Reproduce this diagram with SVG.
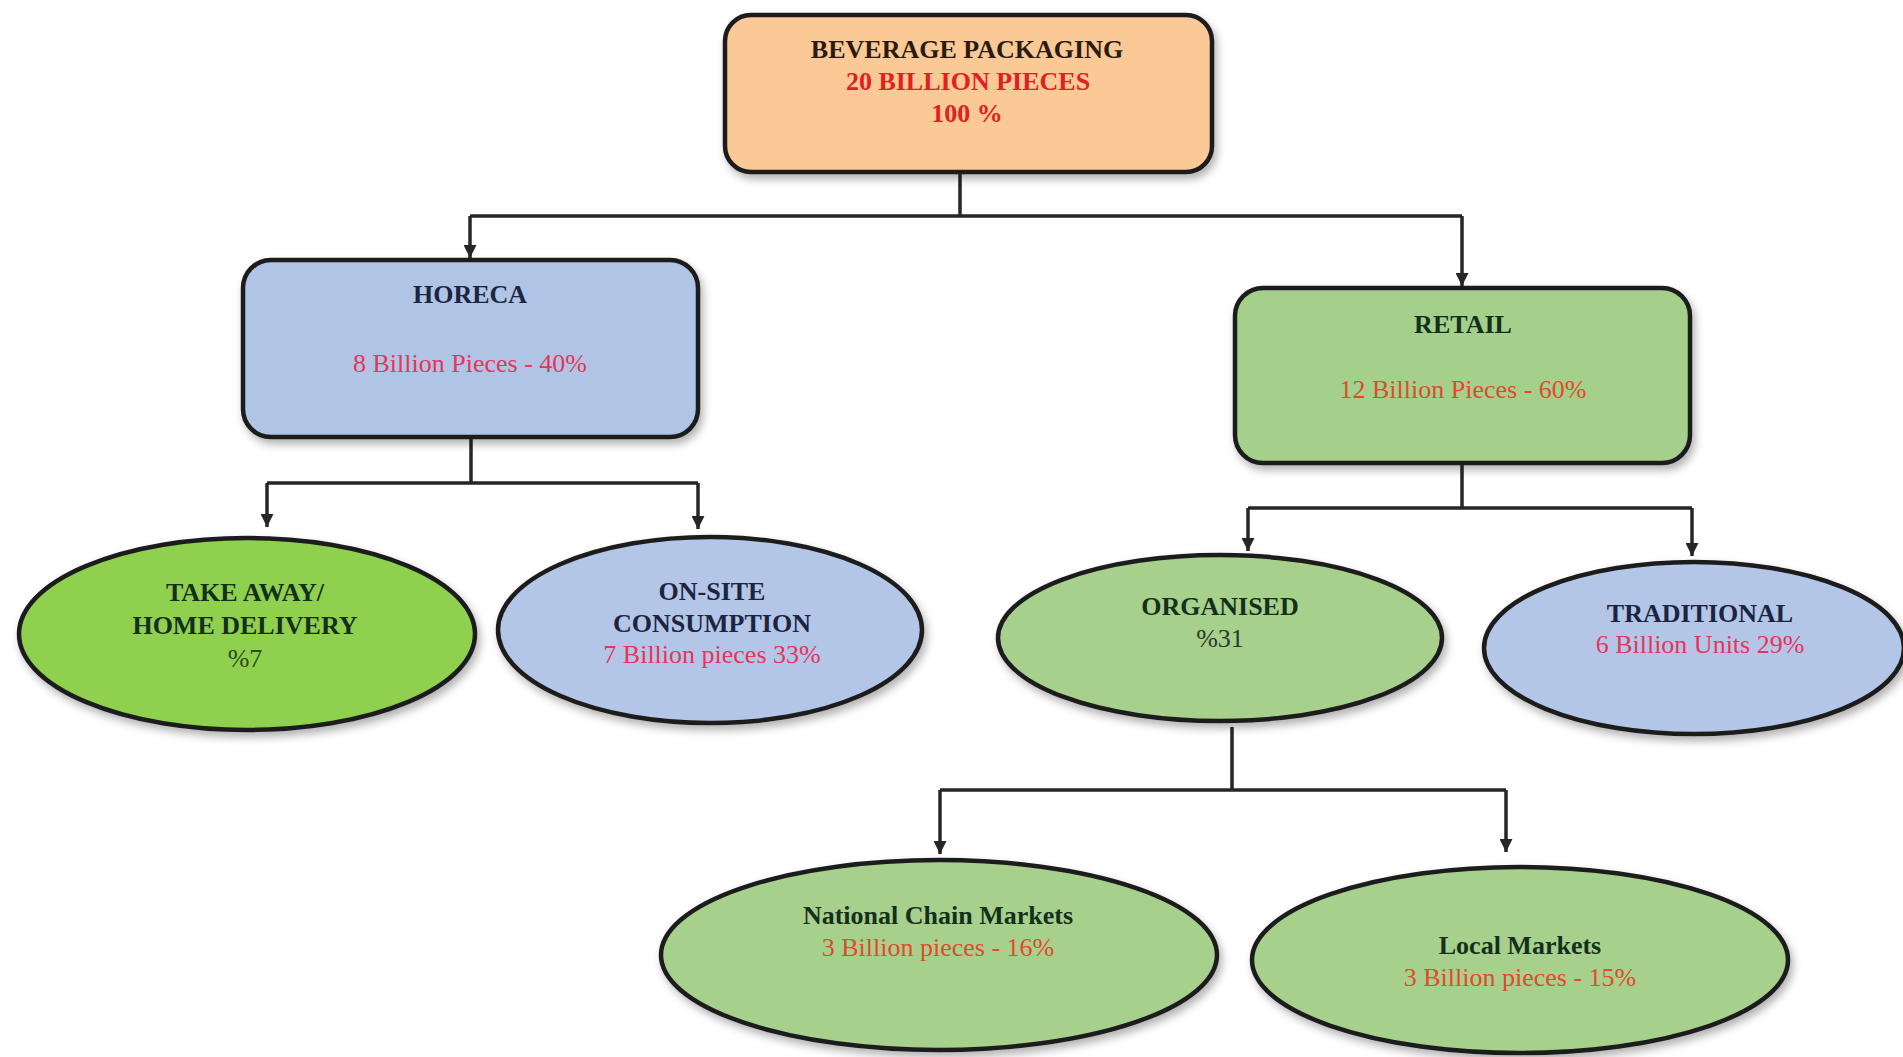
<svg xmlns="http://www.w3.org/2000/svg" width="1903" height="1057" viewBox="0 0 1903 1057" font-family="'Liberation Serif', 'Times New Roman', serif">
<style>
text{font-family:'Liberation Serif','Times New Roman',serif;font-size:26px;text-anchor:middle}
.b{font-weight:bold}
.node{stroke:#1e1e1e;stroke-width:4.5}
.conn{fill:none;stroke:#262626;stroke-width:3.5}
.redA{fill:#e3201f}
.redB{fill:#e8335a}
.redC{fill:#e2492b}
.navy{fill:#1b2440}
.dgreen{fill:#15301a}
.dark{fill:#2a1a10}
</style>
<defs>
<filter id="sh" x="-10%" y="-10%" width="125%" height="130%">
<feDropShadow dx="3" dy="5" stdDeviation="4" flood-color="#000" flood-opacity="0.3"/>
</filter>
<marker id="ah" viewBox="0 0 12 12" refX="12" refY="6" markerWidth="13" markerHeight="13" markerUnits="userSpaceOnUse" orient="auto">
<path d="M0 0 L12 6 L0 12 Z" fill="#262626"/>
</marker>
</defs>
<rect width="1903" height="1057" fill="#ffffff"/>

<g id="connectors">
<path class="conn" d="M960 172 V216 M470 216 H1462"/>
<path class="conn" d="M470 216 V258" marker-end="url(#ah)"/>
<path class="conn" d="M1462 216 V286" marker-end="url(#ah)"/>
<path class="conn" d="M471 437 V483 M267 483 H698"/>
<path class="conn" d="M267 483 V527" marker-end="url(#ah)"/>
<path class="conn" d="M698 483 V529" marker-end="url(#ah)"/>
<path class="conn" d="M1462 463 V508 M1248 508 H1692"/>
<path class="conn" d="M1248 508 V551" marker-end="url(#ah)"/>
<path class="conn" d="M1692 508 V556" marker-end="url(#ah)"/>
<path class="conn" d="M1232 727 V790 M940 790 H1506"/>
<path class="conn" d="M940 790 V854" marker-end="url(#ah)"/>
<path class="conn" d="M1506 790 V852" marker-end="url(#ah)"/>
</g>

<g id="beverage">
<rect class="node" x="725" y="15" width="487" height="157" rx="26" fill="#fbc996" filter="url(#sh)"/>
<text class="b dark" x="967" y="58">BEVERAGE PACKAGING</text>
<text class="b redA" x="968" y="90">20 BILLION PIECES</text>
<text class="b redA" x="967" y="122">100 %</text>
</g>

<g id="horeca">
<rect class="node" x="243" y="260" width="455" height="177" rx="28" fill="#b0c4e6" filter="url(#sh)"/>
<text class="b navy" x="470" y="303">HORECA</text>
<text class="redB" x="470" y="372">8 Billion Pieces - 40%</text>
</g>

<g id="retail">
<rect class="node" x="1235" y="288" width="455" height="175" rx="28" fill="#a4d08c" filter="url(#sh)"/>
<text class="b dgreen" x="1463" y="333">RETAIL</text>
<text class="redC" x="1463" y="398">12 Billion Pieces - 60%</text>
</g>

<g id="takeaway">
<ellipse class="node" cx="247" cy="634" rx="228" ry="96" fill="#8fd14f" filter="url(#sh)"/>
<text class="b dgreen" x="245" y="601">TAKE AWAY/</text>
<text class="b dgreen" x="245" y="634">HOME DELIVERY</text>
<text fill="#2a4a20" x="245" y="667">%7</text>
</g>

<g id="onsite">
<ellipse class="node" cx="710" cy="630" rx="212" ry="93" fill="#b4c6e7" filter="url(#sh)"/>
<text class="b navy" x="712" y="600">ON-SITE</text>
<text class="b navy" x="712" y="632">CONSUMPTION</text>
<text class="redB" x="712" y="663">7 Billion pieces 33%</text>
</g>

<g id="organised">
<ellipse class="node" cx="1220" cy="638" rx="222" ry="83" fill="#a8d08d" filter="url(#sh)"/>
<text class="b dgreen" x="1220" y="615">ORGANISED</text>
<text fill="#2a3a2a" x="1220" y="647">%31</text>
</g>

<g id="traditional">
<ellipse class="node" cx="1694" cy="648" rx="210" ry="86" fill="#b4c6e7" filter="url(#sh)"/>
<text class="b navy" x="1700" y="622">TRADITIONAL</text>
<text class="redB" x="1700" y="653">6 Billion Units 29%</text>
</g>

<g id="national">
<ellipse class="node" cx="939" cy="955" rx="278" ry="95" fill="#a8d08d" filter="url(#sh)"/>
<text class="b dgreen" x="938" y="924">National Chain Markets</text>
<text class="redC" x="938" y="956">3 Billion pieces - 16%</text>
</g>

<g id="local">
<ellipse class="node" cx="1520" cy="960" rx="268" ry="93" fill="#a8d08d" filter="url(#sh)"/>
<text class="b dgreen" x="1520" y="954">Local Markets</text>
<text class="redC" x="1520" y="986">3 Billion pieces - 15%</text>
</g>
</svg>
